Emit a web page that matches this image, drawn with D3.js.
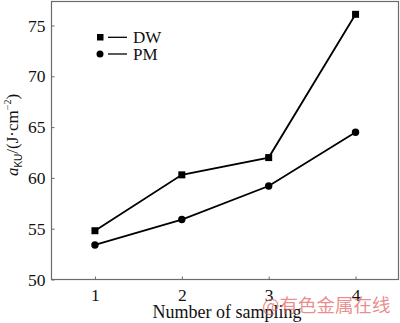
<!DOCTYPE html>
<html><head><meta charset="utf-8">
<script src="https://cdn.jsdelivr.net/npm/d3@7"></script>
<style>html,body{margin:0;padding:0;background:#fff;}svg{display:block;}</style>
</head><body>
<script>
const samples = [1, 2, 3, 4];
const dwValues = [54.8, 60.3, 62.0, 76.1];
const pmValues = [53.4, 55.9, 59.2, 64.5];
const yTicks = [50, 55, 60, 65, 70, 75];
const seriesNames = ["DW", "PM"];

const W = 400, H = 323;
const m = {left: 51.5, right: 1, top: 1.5, bottom: 43.5};
const svg = d3.select("body").append("svg").attr("width", W).attr("height", H);
const x = d3.scaleLinear().domain([0.5, 4.5]).range([m.left, W - m.right]);
const y = d3.scaleLinear().domain([50, 75]).range([H - m.bottom, 25.5]);
const font = "Liberation Serif, Times New Roman, serif";
const axisCol = "#6b6b6b";

// frame
svg.append("rect").attr("x", m.left).attr("y", m.top)
  .attr("width", W - m.right - m.left - 0.5).attr("height", H - m.bottom - m.top)
  .attr("fill", "none").attr("stroke", axisCol).attr("stroke-width", 1.2);

const xAxis = svg.append("g").attr("transform", `translate(0,${H - m.bottom})`)
  .call(d3.axisBottom(x).tickValues(samples).tickSize(-3).tickPadding(9).tickFormat(d3.format("d")));
const yAxis = svg.append("g").attr("transform", `translate(${m.left},0)`)
  .call(d3.axisLeft(y).tickValues(yTicks).tickSize(-3).tickPadding(6));
[xAxis, yAxis].forEach(g => {
  g.select(".domain").remove();
  g.selectAll("line").attr("stroke", axisCol).attr("stroke-width", 1);
  g.selectAll("text").attr("font-family", font).attr("font-size", 17.5).attr("fill", "#111");
});

const line = d3.line().x((d, i) => x(samples[i])).y(d => y(d));
svg.append("path").datum(dwValues).attr("d", line).attr("fill", "none").attr("stroke", "#000").attr("stroke-width", 1.8);
svg.append("path").datum(pmValues).attr("d", line).attr("fill", "none").attr("stroke", "#000").attr("stroke-width", 1.8);
svg.selectAll(".sq").data(dwValues).enter().append("rect")
  .attr("x", (d, i) => x(samples[i]) - 3.5).attr("y", d => y(d) - 3.5).attr("width", 7).attr("height", 7).attr("fill", "#000");
svg.selectAll(".ci").data(pmValues).enter().append("circle")
  .attr("cx", (d, i) => x(samples[i])).attr("cy", d => y(d)).attr("r", 3.7).attr("fill", "#000");

// legend
const lg = svg.append("g").attr("font-family", font).attr("font-size", 17);
lg.append("rect").attr("x", 97).attr("y", 34).attr("width", 6.5).attr("height", 6.5).attr("fill", "#000");
lg.append("circle").attr("cx", 100).attr("cy", 54).attr("r", 3.5).attr("fill", "#000");
[37.3, 54].forEach((yy, i) => {
  lg.append("line").attr("x1", 108).attr("x2", 127).attr("y1", yy).attr("y2", yy).attr("stroke", "#000").attr("stroke-width", 1.3);
  lg.append("text").attr("x", 133).attr("y", yy + 6).text(seriesNames[i]).attr("fill", "#111");
});

// axis titles
svg.append("text").attr("x", 227).attr("y", 318).attr("text-anchor", "middle")
  .attr("font-family", font).attr("font-size", 18).attr("fill", "#111").text("Number of sampling");
const yl = svg.append("text").attr("transform", "translate(18,135) rotate(-90)").attr("text-anchor", "middle")
  .attr("font-family", font).attr("font-size", 17).attr("fill", "#111");
yl.append("tspan").attr("font-style", "italic").text("a");
yl.append("tspan").attr("font-size", 10).attr("font-family", "Liberation Sans, Arial, sans-serif").attr("dy", 4).text("KU");
yl.append("tspan").attr("dy", -4).text("/(J\u00b7cm");
yl.append("tspan").attr("font-size", 10).attr("dy", -7).text("\u22122");
yl.append("tspan").attr("dy", 7).text(")");

// watermark
svg.append("text").attr("x", 262).attr("y", 312).attr("font-family", "Noto Sans CJK SC, sans-serif")
  .attr("font-size", 18.5).attr("fill", "#e05a5a").attr("fill-opacity", 0.7).text("@有色金属在线");
</script>
</body></html>
